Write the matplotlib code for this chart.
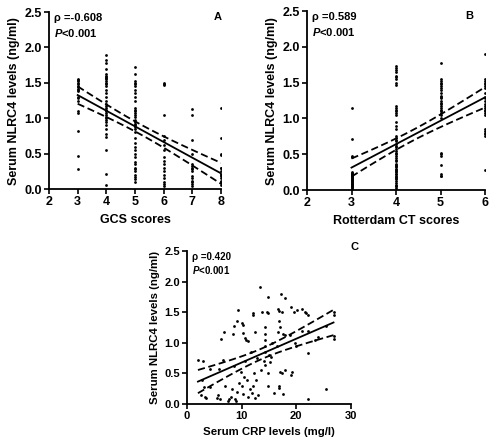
import numpy as np
import matplotlib
matplotlib.use("Agg")
import matplotlib.pyplot as plt

plt.rcParams['font.family'] = ['Liberation Sans', 'DejaVu Sans']
plt.rcParams['font.weight'] = 'bold'
plt.rcParams['mathtext.fontset'] = 'custom'
plt.rcParams['mathtext.it'] = 'Liberation Sans:italic:bold'
plt.rcParams['mathtext.rm'] = 'Liberation Sans:bold'

# Panel A: GCS scores vs NLRC4 (many dots overlap in each column)
gcs_x = [3] * 18 + [4] * 35 + [5] * 38 + [6] * 18 + [7] * 15 + [8] * 16
gcs_y = [1.55, 1.54, 1.52, 1.50, 1.48, 1.46, 1.44, 1.42, 1.40, 1.38, 1.30, 1.28, 1.25,
         1.10, 1.07, 0.82, 0.47, 0.29,
         1.90, 1.82, 1.78, 1.70, 1.62, 1.60, 1.58, 1.57, 1.55, 1.52, 1.50, 1.48, 1.45, 1.40,
         1.35, 1.30, 1.25, 1.20, 1.18, 1.15, 1.12, 1.10, 1.08, 1.05, 1.02, 1.00, 0.98, 0.95,
         0.90, 0.85, 0.78, 0.73, 0.55, 0.22, 0.06,
         1.72, 1.62, 1.52, 1.50, 1.48, 1.45, 1.40, 1.35, 1.30, 1.25, 1.15, 1.12, 1.10, 1.08,
         1.05, 1.02, 0.98, 0.95, 0.92, 0.90, 0.88, 0.85, 0.80, 0.72, 0.65, 0.60, 0.55, 0.50,
         0.45, 0.38, 0.35, 0.30, 0.28, 0.25, 0.20, 0.17, 0.14, 0.10,
         1.50, 1.48, 1.47, 1.05, 0.75, 0.70, 0.62, 0.55, 0.45, 0.40, 0.35, 0.30, 0.25, 0.20,
         0.15, 0.10, 0.07, 0.05,
         1.13, 1.05, 0.70, 0.50, 0.35, 0.32, 0.30, 0.28, 0.25, 0.18, 0.15, 0.12, 0.10, 0.07,
         0.05,
         1.15, 0.72, 0.50, 0.48, 0.30, 0.30, 0.25, 0.22, 0.20, 0.18, 0.15, 0.12, 0.10, 0.10,
         0.08, 0.06]

# Panel B: Rotterdam CT scores vs NLRC4
ct_x = [3] * 28 + [4] * 53 + [5] * 29 + [6] * 24
ct_y = [1.15, 0.71, 0.48, 0.46, 0.25, 0.24, 0.23, 0.22, 0.21, 0.20, 0.19, 0.18, 0.17,
        0.16, 0.15, 0.14, 0.13, 0.12, 0.11, 0.10, 0.09, 0.08, 0.07, 0.06, 0.05, 0.04, 0.03,
        0.02,
        1.73, 1.70, 1.68, 1.65, 1.60, 1.58, 1.55, 1.50, 1.47, 1.17, 1.15, 1.12, 1.10, 1.08,
        1.05, 0.95, 0.90, 0.85, 0.75, 0.72, 0.70, 0.68, 0.65, 0.62, 0.60, 0.58, 0.55, 0.52,
        0.50, 0.48, 0.45, 0.42, 0.40, 0.37, 0.35, 0.33, 0.32, 0.30, 0.28, 0.27, 0.25, 0.23,
        0.22, 0.20, 0.18, 0.17, 0.15, 0.13, 0.10, 0.07, 0.06, 0.05, 0.03,
        1.78, 1.55, 1.52, 1.50, 1.48, 1.45, 1.42, 1.40, 1.35, 1.32, 1.30, 1.28, 1.25, 1.22,
        1.20, 1.18, 1.15, 1.12, 1.10, 1.08, 1.05, 1.00, 0.52, 0.50, 0.48, 0.35, 0.22, 0.20,
        0.19,
        1.90, 1.55, 1.52, 1.50, 1.48, 1.45, 1.42, 1.35, 1.30, 1.28, 1.25, 1.20, 1.18, 1.15,
        1.12, 1.10, 1.08, 1.05, 0.85, 0.82, 0.80, 0.78, 0.75, 0.28]

# Panel C: CRP vs NLRC4
crp_x = [2.0, 3.0, 2.5, 2.8, 3.2, 3.3, 3.5, 4.2, 4.2, 5.4, 5.7, 5.9, 6.0, 6.3, 6.6, 6.8,
         7.0, 7.6, 8.0, 8.5, 8.6, 8.6, 8.8, 9.0, 9.2, 9.4, 9.2, 9.5, 9.8, 10.0, 10.2, 10.0,
         10.3, 10.3, 10.6, 10.6, 10.8, 11.1, 11.0, 11.2, 11.5, 11.8, 12.1, 12.0, 12.3, 12.4,
         12.4, 12.8, 13.0, 13.4, 13.8, 14.3, 14.3, 14.3, 14.3, 14.3, 14.6, 14.9, 14.9, 14.9,
         14.9, 14.3, 15.4, 15.2, 16.7, 16.8, 17.0, 16.8, 16.8, 16.7, 16.9, 17.2, 17.3, 17.9,
         17.5, 18.0, 18.8, 17.0, 17.3, 18.0, 19.0, 19.2, 19.0, 19.5, 20.2, 21.0, 21.5, 21.8,
         22.2, 22.1, 22.2, 22.2, 25.5, 25.5, 26.8, 26.8, 26.8, 26.8, 10.5, 12.0, 11.7, 16.0,
         17.5, 16.5, 15.5, 20.0, 24.0, 23.5, 7.5, 8.2, 12.6, 13.5, 14.0, 15.0, 19.8, 21.0]
crp_y = [0.72, 0.71, 0.15, 0.40, 0.28, 0.12, 0.10, 0.58, 0.28, 0.10, 0.14, 0.57, 0.08, 1.06,
         0.72, 1.18, 0.30, 0.08, 0.12, 1.15, 0.62, 1.28, 0.09, 0.05, 1.36, 1.54, 0.20, 0.35,
         0.52, 1.32, 1.29, 0.30, 1.16, 0.16, 0.70, 1.08, 1.05, 1.03, 0.40, 0.12, 0.25, 0.18,
         1.48, 1.46, 0.51, 1.17, 0.10, 0.75, 0.15, 1.91, 1.50, 1.26, 1.15, 1.05, 0.64, 0.85,
         1.50, 1.75, 1.49, 0.50, 0.29, 0.95, 0.77, 0.68, 1.18, 1.36, 1.26, 0.30, 0.26, 1.55,
         1.52, 1.80, 1.50, 1.73, 1.15, 1.12, 1.12, 0.52, 0.50, 0.55, 0.48, 0.52, 1.58, 1.50,
         1.53, 1.55, 1.50, 1.48, 1.45, 1.19, 0.84, 0.08, 1.27, 0.24, 1.50, 1.45, 1.11, 1.07,
         0.45, 0.30, 0.85, 0.18, 0.17, 0.95, 1.00, 0.95, 1.10, 1.05, 0.05, 0.25, 0.40, 0.55,
         0.70, 0.80, 1.00, 1.20]

T_CRIT = 1.98


def fit_band(x, y, xs):
    x = np.asarray(x, float)
    y = np.asarray(y, float)
    b, a = np.polyfit(x, y, 1)
    resid = y - (a + b * x)
    n = len(x)
    s = np.sqrt(np.sum(resid ** 2) / (n - 2))
    sxx = np.sum((x - x.mean()) ** 2)
    fit = a + b * xs
    se = s * np.sqrt(1 / n + (xs - x.mean()) ** 2 / sxx)
    return fit, fit - T_CRIT * se, fit + T_CRIT * se


def panel(ax, x, y, xlim, xticks, xlabel, rho, letter, letter_pos, fs=9, tfs=9, afs=8):
    ax.scatter(x, y, s=4, color='black', linewidths=0, zorder=3)
    xs = np.linspace(min(x), max(x), 100)
    fit, lo, hi = fit_band(x, y, xs)
    ax.plot(xs, fit, color='black', lw=1.3)
    ax.plot(xs, lo, color='black', lw=1.3, ls=(0, (4, 2)))
    ax.plot(xs, hi, color='black', lw=1.3, ls=(0, (4, 2)))
    ax.set_xlim(*xlim)
    ax.set_ylim(0, 2.5)
    ax.set_xticks(xticks)
    ax.set_yticks([0.0, 0.5, 1.0, 1.5, 2.0, 2.5])
    ax.set_yticklabels(['0.0', '0.5', '1.0', '1.5', '2.0', '2.5'])
    ax.spines['top'].set_visible(False)
    ax.spines['right'].set_visible(False)
    for sp in ('left', 'bottom'):
        ax.spines[sp].set_linewidth(1.3)
    ax.tick_params(direction='out', length=3.5, width=1.2, labelsize=tfs, pad=1.5)
    ax.set_xlabel(xlabel, fontsize=fs, fontweight='bold', labelpad=4)
    ax.set_ylabel('Serum NLRC4 levels (ng/ml)', fontsize=fs, fontweight='bold', labelpad=3)
    ax.text(0.03, 0.995, rho, transform=ax.transAxes, fontsize=afs, fontweight='bold',
            va='top', ha='left')
    ax.text(0.03, 0.915, r'$P$<0.001', transform=ax.transAxes, fontsize=afs,
            fontweight='bold', va='top', ha='left')
    ax.text(letter_pos[0], letter_pos[1], letter, transform=ax.transAxes, fontsize=8,
            fontweight='bold', va='top', ha='center')


fig = plt.figure(figsize=(5, 4.45), dpi=100)
ax_a = fig.add_axes([0.098, 0.575, 0.344, 0.398])
ax_b = fig.add_axes([0.614, 0.573, 0.356, 0.402])
ax_c = fig.add_axes([0.374, 0.092, 0.328, 0.344])

panel(ax_a, gcs_x, gcs_y, (2, 8), [2, 3, 4, 5, 6, 7, 8], 'GCS scores', 'ρ =-0.608', 'A',
      (0.98, 1.0))
panel(ax_b, ct_x, ct_y, (2, 6), [2, 3, 4, 5, 6], 'Rotterdam CT scores', 'ρ =0.589', 'B',
      (0.91, 1.0))
panel(ax_c, crp_x, crp_y, (0, 30), [0, 10, 20, 30], 'Serum CRP levels (mg/l)', 'ρ =0.420',
      'C', (1.02, 1.06), fs=8.2, tfs=8, afs=7)

fig.savefig('out.png', dpi=100)
